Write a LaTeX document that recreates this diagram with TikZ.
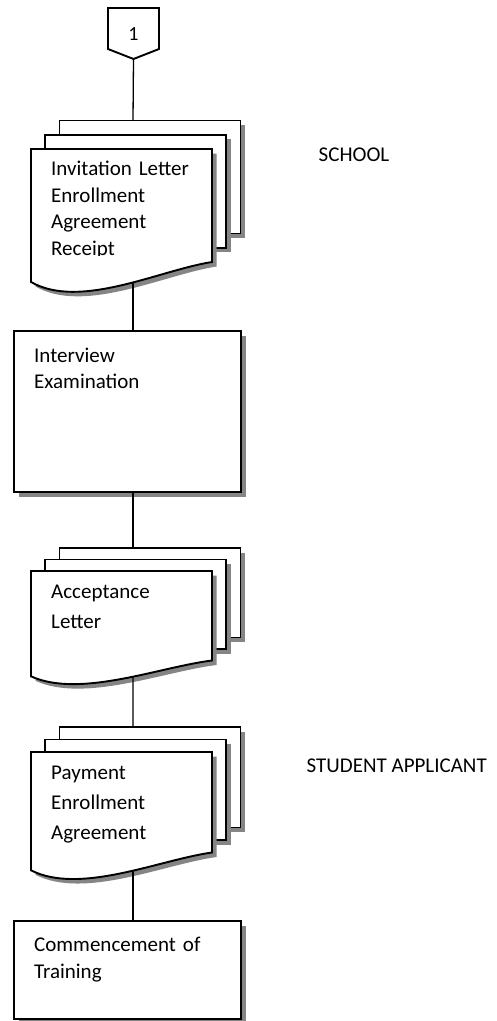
\documentclass[tikz,border=0pt]{standalone}
\usepackage{fontspec}
\setmainfont{Carlito}
\usetikzlibrary{intersections,shadows}
\tikzset{
  shapeline/.style={line width=1.9pt, draw=black, line join=miter},
  shadowfill/.style={fill=black!48},
  conn/.style={line width=1.3pt, draw=black},
  lbl/.style={inner sep=0pt, anchor=base west, align=left, text width=200pt},
  procbox/.style={shapeline, fill=white, rectangle, inner sep=0pt, outer sep=0pt, anchor=north west,
    general shadow={shadowfill, shadow xshift=4.5pt, shadow yshift=-4.5pt}},
}
\newcommand\docstack[4]{% name, front top, front right-bottom, sheet offset
  \pgfmathsetmacro\dsH{#3-#2}
  \pgfmathsetmacro\dsLB{#3+0.177*\dsH}
  \pgfmathsetmacro\dsCA{#3+0.425*\dsH}
  \pgfmathsetmacro\dsCB{#3+0.071*\dsH}
  \foreach \k in {2,1} {
    \pgfmathsetmacro\dsX{31+14.25*\k}
    \pgfmathsetmacro\dsXR{\dsX+181}
    \pgfmathsetmacro\dsT{#2-#4*\k}
    \pgfmathsetmacro\dsB{#3-#4*\k}
    \fill[shadowfill] (\dsX+4.5,\dsT+4.5) rectangle (\dsXR+4.5,\dsB+4.5);
    \draw[shapeline, fill=white] (\dsX,\dsT) rectangle (\dsXR,\dsB);
  }
  \fill[shadowfill, shift={(4.5,4.5)}] (31,#2) -- (212,#2) -- (212,#3)
     .. controls (160,\dsCB) and (80,\dsCA) .. (31,\dsLB) -- cycle;
  \draw[shapeline, fill=white, name path=#1w] (31,#2) -- (212,#2) -- (212,#3)
     .. controls (160,\dsCB) and (80,\dsCA) .. (31,\dsLB) -- cycle;
  \coordinate (#1top) at (133,{#2-2*#4});
  \path[name path=#1v] (133,#3) -- (133,{#3+0.6*\dsH});
  \path[name intersections={of=#1w and #1v, by=#1bot}];
}
\begin{document}
\begin{tikzpicture}[x=1pt,y=-1pt]
\useasboundingbox (0,0) rectangle (496,1021);
\fill[white] (0,0) rectangle (496,1021);

% off-page connector
\draw[shapeline, fill=white] (108,8) -- (159,8) -- (159,49) -- (133.5,59) -- (108,49) -- cycle;
\coordinate (c1tip) at (133.5,59);
\node[inner sep=0pt, anchor=base, font=\fontsize{20}{24}\selectfont] (c1) at (133.5,40) {1};

% document stacks
\docstack{d1}{149}{262}{14.25}
\begin{scope}
  \clip (31,149) rectangle (212,255.8);
  \node[lbl, font=\fontsize{21}{26.5}\selectfont] (t1) at (51,175.5)
    {Invitation Letter\\Enrollment\\Agreement\\Receipt};
\end{scope}

\node[procbox, minimum width=227pt, minimum height=161pt] (r2) at (14,331) {};
\node[lbl, font=\fontsize{21}{26}\selectfont] (t2) at (34,362) {Interview\\Examination};

\docstack{d3}{571}{660.5}{11.5}
\node[lbl, font=\fontsize{21}{30}\selectfont] (t3) at (51,598) {Acceptance\\Letter};

\docstack{d4}{752}{852.5}{12.5}
\node[lbl, font=\fontsize{21}{30}\selectfont] (t4) at (51,779) {Payment\\Enrollment\\Agreement};

\node[procbox, minimum width=227pt, minimum height=98pt] (r5) at (14,921) {};
\node[lbl, font=\fontsize{21}{27}\selectfont] (t5) at (34,951) {Commencement of\\Training};

% side labels
\node[inner sep=0pt, anchor=base west, font=\fontsize{21}{26}\selectfont] (school) at (318.5,161.5) {SCHOOL};
\node[inner sep=0pt, anchor=base west, font=\fontsize{21}{26}\selectfont] (student) at (306.5,772) {STUDENT APPLICANT};

% connectors
\draw[conn] (c1tip) -- (d1top);
\draw[conn] (d1bot) -- (d1bot |- r2.north);
\draw[conn] (d3top |- r2.south) -- (d3top);
\draw[conn] (d3bot) -- (d4top);
\draw[conn] (d4bot) -- (d4bot |- r5.north);
\end{tikzpicture}
\end{document}
